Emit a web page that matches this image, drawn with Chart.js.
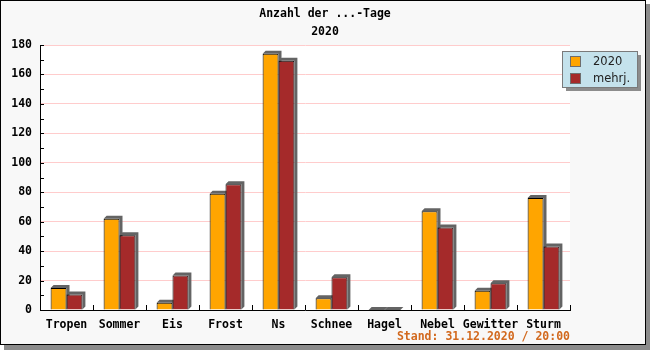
<!DOCTYPE html>
<html>
<head>
<meta charset="utf-8">
<script src="https://cdn.jsdelivr.net/npm/chart.js"></script>
<style>
  html, body { margin: 0; padding: 0; background: #fff; }
</style>
</head>
<body>
<canvas id="tageChart" width="650" height="350"></canvas>
<script>
const categories = ['Tropen', 'Sommer', 'Eis', 'Frost', 'Ns', 'Schnee', 'Hagel', 'Nebel', 'Gewitter', 'Sturm'];
const tage2020 = [15, 62, 5, 79, 174, 8, 0, 67, 13, 76];
const mehrjaehrig = [10.6, 50.8, 23.5, 85.4, 169.3, 22.2, 0, 56, 18.1, 43.2];
const yTicks = { min: 0, max: 180, step: 10 };

const titleLines = ['Anzahl der ...-Tage', '2020'];
const standText = 'Stand: 31.12.2020 / 20:00';

const monoFont = 'bold 11.5px "DejaVu Sans Mono", monospace';

// frame, plot background, 3d bar shadows, inner ticks, legend, titles
const decor = {
  id: 'decor',
  beforeDraw(chart) {
    const c = chart.ctx, a = chart.chartArea;
    c.save();
    c.fillStyle = '#fff';
    c.fillRect(0, 0, chart.width, chart.height);
    c.fillStyle = '#8c8c8c';
    c.fillRect(4, 4, 646, 346);
    c.fillStyle = '#f8f8f8';
    c.fillRect(0, 0, 646, 345);
    c.strokeStyle = '#000';
    c.lineWidth = 1;
    c.strokeRect(0.5, 0.5, 645, 344);
    c.fillStyle = '#fff';
    c.fillRect(a.left, a.top, a.right - a.left, a.bottom - a.top);
    c.restore();
  },
  beforeDatasetsDraw(chart) {
    const c = chart.ctx, d = 3;
    c.save();
    c.fillStyle = '#646464';
    chart.data.datasets.forEach((ds, i) => {
      chart.getDatasetMeta(i).data.forEach(bar => {
        const x0 = bar.x - bar.width / 2, x1 = bar.x + bar.width / 2;
        c.beginPath();
        c.moveTo(x0, bar.y);
        c.lineTo(x0 + d, bar.y - d);
        c.lineTo(x1 + d, bar.y - d);
        c.lineTo(x1 + d, bar.base - d);
        c.lineTo(x1, bar.base);
        c.lineTo(x1, bar.y);
        c.closePath();
        c.fill();
      });
    });
    c.restore();
  },
  afterDraw(chart) {
    const c = chart.ctx, a = chart.chartArea;
    const xs = chart.scales.x, ys = chart.scales.y;
    c.save();
    c.strokeStyle = '#000';
    c.lineWidth = 1;
    c.beginPath();
    for (let v = yTicks.min; v <= yTicks.max; v += yTicks.step) {
      const y = Math.round(ys.getPixelForValue(v)) + 0.5;
      c.moveTo(a.left, y);
      c.lineTo(a.left + 4, y);
    }
    for (let i = 1; i <= categories.length; i++) {
      const x = Math.round(xs.getPixelForValue(i - 0.5)) + 0.5;
      c.moveTo(x, a.bottom);
      c.lineTo(x, a.bottom - 5);
    }
    c.stroke();

    // titles
    c.fillStyle = '#000';
    c.font = monoFont;
    c.textAlign = 'center';
    c.textBaseline = 'middle';
    c.fillText(titleLines[0], 325, 14);
    c.fillText(titleLines[1], 325, 32);

    // footer
    c.fillStyle = '#d2691e';
    c.textAlign = 'right';
    c.fillText(standText, 570, 337);

    // legend box
    const lx = 562, ly = 51, lw = 75, lh = 36;
    c.fillStyle = '#8c8c8c';
    c.fillRect(lx + 4, ly + 4, lw, lh);
    c.fillStyle = '#c4e2ec';
    c.fillRect(lx, ly, lw, lh);
    c.strokeStyle = '#7a7a7a';
    c.strokeRect(lx + 0.5, ly + 0.5, lw, lh);
    c.font = '11.5px "DejaVu Sans", sans-serif';
    c.textAlign = 'left';
    chart.data.datasets.forEach((ds, i) => {
      const sy = ly + 6 + i * 17;
      c.fillStyle = ds.backgroundColor;
      c.fillRect(lx + 9, sy, 9, 9);
      c.strokeStyle = '#6e6e6e';
      c.strokeRect(lx + 8.5, sy - 0.5, 10, 10);
      c.fillStyle = '#222';
      c.fillText(ds.label, lx + 31, sy + 5);
    });
    c.restore();
  }
};

new Chart(document.getElementById('tageChart'), {
  type: 'bar',
  data: {
    labels: categories,
    datasets: [{
      label: '2020',
      data: tage2020,
      backgroundColor: '#ffa500',
      borderColor: '#000',
      borderWidth: 1,
      borderSkipped: 'bottom'
    }, {
      label: 'mehrj.',
      data: mehrjaehrig,
      backgroundColor: '#a52a2a',
      borderColor: '#000',
      borderWidth: 1,
      borderSkipped: 'bottom'
    }]
  },
  options: {
    responsive: false,
    animation: false,
    layout: { padding: { top: 45, right: 80, bottom: 0, left: 0 } },
    datasets: { bar: { categoryPercentage: 0.6, barPercentage: 1.0 } },
    scales: {
      x: {
        afterFit: s => { s.height = 40; },
        grid: { display: false, drawTicks: false },
        border: { color: '#000', width: 1 },
        ticks: { color: '#000', font: { family: '"DejaVu Sans Mono", monospace', size: 11.5, weight: 'bold' }, padding: 8, autoSkip: false, maxRotation: 0 }
      },
      y: {
        min: yTicks.min,
        max: yTicks.max,
        afterFit: s => { s.width = 40; },
        grid: {
          drawTicks: false,
          color: ctx => (ctx.tick && ctx.tick.value % 20 === 0 && ctx.tick.value > 0) ? '#ffcccc' : 'rgba(0,0,0,0)'
        },
        border: { color: '#000', width: 1 },
        ticks: {
          stepSize: yTicks.step,
          color: '#000',
          padding: 8,
          font: { family: '"DejaVu Sans Mono", monospace', size: 11.5, weight: 'bold' },
          callback: v => (v % 20 === 0 ? v : '')
        }
      }
    },
    plugins: {
      legend: { display: false },
      title: { display: false },
      tooltip: { enabled: false }
    }
  },
  plugins: [decor]
});
</script>
</body>
</html>
